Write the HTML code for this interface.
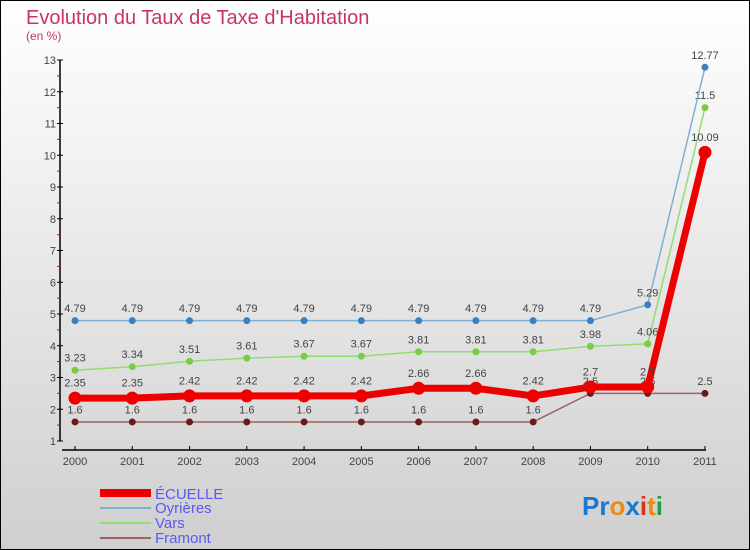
<!DOCTYPE html>
<html><head><meta charset="utf-8"><style>
html,body{margin:0;padding:0}
body{width:750px;height:550px;overflow:hidden;font-family:"Liberation Sans",sans-serif}
svg{display:block}
</style></head><body>
<svg id="chart" width="750" height="550" xmlns="http://www.w3.org/2000/svg">
<defs><linearGradient id="bg" x1="0" y1="0" x2="0" y2="1"><stop offset="0" stop-color="#ffffff"/><stop offset="1" stop-color="#cfcfcf"/></linearGradient></defs>
<rect x="0.5" y="0.5" width="749" height="549" fill="url(#bg)" stroke="#000"/>
<text x="26" y="24" font-size="20" fill="#c8336a">Evolution du Taux de Taxe d'Habitation</text>
<text x="26" y="40" font-size="12" fill="#c8336a">(en %)</text>
<g id="axes"></g><g id="series"></g>
<g>
<rect x="100" y="489" width="51" height="8" fill="#e00"/>
<text x="155" y="499" font-size="15" fill="#5a5af0">ÉCUELLE</text>
<rect x="100" y="507" width="51" height="2" fill="#7fb0d0"/>
<text x="155" y="513" font-size="15" fill="#5a5af0">Oyrières</text>
<rect x="100" y="522" width="51" height="2" fill="#90dd70"/>
<text x="155" y="528" font-size="15" fill="#5a5af0">Vars</text>
<rect x="100" y="537" width="51" height="2" fill="#a06060"/>
<text x="155" y="543" font-size="15" fill="#5a5af0">Framont</text>
</g>
<text x="582" y="515" font-size="26" font-weight="bold"><tspan fill="#1a78d0">Pr</tspan><tspan fill="#f08a10">o</tspan><tspan fill="#1a78d0">x</tspan><tspan fill="#e03020">i</tspan><tspan fill="#f08a10">t</tspan><tspan fill="#20a040">i</tspan></text>
</svg>
<script>
const years=["2000","2001","2002","2003","2004","2005","2006","2007","2008","2009","2010","2011"];
const yTicks=[1,2,3,4,5,6,7,8,9,10,11,12,13];
const ecuelle=[2.35,2.35,2.42,2.42,2.42,2.42,2.66,2.66,2.42,2.7,2.7,10.09];
const oyrieres=[4.79,4.79,4.79,4.79,4.79,4.79,4.79,4.79,4.79,4.79,5.29,12.77];
const vars=[3.23,3.34,3.51,3.61,3.67,3.67,3.81,3.81,3.81,3.98,4.06,11.5];
const framont=[1.6,1.6,1.6,1.6,1.6,1.6,1.6,1.6,1.6,2.5,2.5,2.5];
const NS="http://www.w3.org/2000/svg";
function xs(i){return 75+i*57.27;}
function ys(v){return 441-(v-1)*31.75;}
function mk(tag,attrs,parent){const e=document.createElementNS(NS,tag);for(const k in attrs)e.setAttribute(k,attrs[k]);parent.appendChild(e);return e;}
const ax=document.getElementById('axes'),sg=document.getElementById('series');
let e=mk('line',{x1:60,y1:60,x2:60,y2:441,stroke:'#000','stroke-width':1.5},ax);


e=mk('line',{x1:62,y1:450,x2:706,y2:450,stroke:'#000','stroke-width':1.5},ax);


yTicks.forEach((v,i)=>{
  mk('line',{x1:57,y1:ys(v),x2:63,y2:ys(v),stroke:'#000'},ax);
  if(i<yTicks.length-1)mk('line',{x1:57,y1:ys(v+0.5),x2:60,y2:ys(v+0.5),stroke:'#e00'},ax);
  const t=mk('text',{x:56,y:ys(v)+4,'font-size':11,fill:'#444','text-anchor':'end'},ax);
  t.textContent=v;
  
  
});
years.forEach((y,i)=>{
  mk('line',{x1:xs(i),y1:446,x2:xs(i),y2:450,stroke:'#000'},ax);
  const t=mk('text',{x:xs(i),y:465,'font-size':11,fill:'#444','text-anchor':'middle'},ax);
  t.textContent=y;
  
  
});
function series(data,name,color,lw,r,dot,fmt){
  const g=mk('g',{},sg);
  
  
  const p=mk('polyline',{points:data.map((v,i)=>xs(i)+','+ys(v)).join(' '),fill:'none',stroke:color,'stroke-width':lw,'stroke-linejoin':'round'},g);
  
  
  data.forEach((v,i)=>{
    const c=mk('circle',{cx:xs(i),cy:ys(v),r:r,fill:dot},g);
    
    
    const t=mk('text',{x:xs(i),y:ys(v)-(r+5),'font-size':11,fill:'#444','text-anchor':'middle'},g);
    t.textContent=String(v);
    
    
  });
}
series(framont,'framont','#a06060',1.5,3.5,'#6a1a1a');
series(vars,'vars','#90dd70',1.5,3.5,'#7acc44');
series(oyrieres,'oyrieres','#7fb0d0',1.5,3.5,'#3a80c0');
series(ecuelle,'ecuelle','#ee0000',7,6.5,'#ee0000');
</script>
</body></html>
